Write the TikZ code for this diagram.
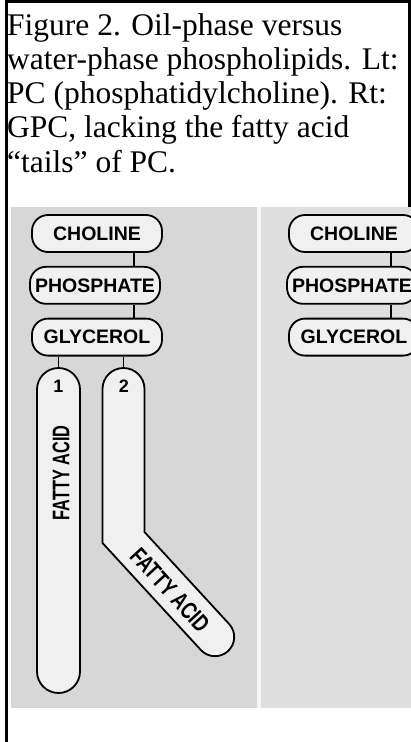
\documentclass[tikz,border=0pt]{standalone}
\usepackage{fontspec}
\setmainfont{Liberation Serif}
\setsansfont{Liberation Sans}
\usetikzlibrary{positioning}
\definecolor{panelL}{RGB}{215,215,215}
\definecolor{panelR}{RGB}{223,223,223}
\definecolor{gapstrip}{RGB}{245,245,245}
\definecolor{boxfill}{RGB}{240,240,240}
\begin{document}
\begin{tikzpicture}[x=1pt,y=1pt,line join=round,
    headbox/.style={draw,line width=1.8pt,fill=boxfill,rounded corners=16pt,minimum width=130pt,minimum height=37pt,inner sep=0pt,font=\sffamily\bfseries\fontsize{19.5}{19.5}\selectfont},
    tailbox/.style={draw,line width=1.8pt,fill=boxfill,rounded corners=21.5pt,minimum width=43pt,inner sep=0pt},
    digit/.style={font=\sffamily\bfseries\fontsize{18}{18}\selectfont,inner sep=0pt},
    fatty/.style={font=\sffamily\bfseries\fontsize{24}{24}\selectfont,inner sep=0pt},
    link/.style={line width=1.8pt},
    caption/.style={anchor=base west,inner sep=0pt,font=\fontsize{31.5}{34}\selectfont}]
    \useasboundingbox (0,0) rectangle (411,-742);
    \clip (0,0) rectangle (411,-742);
    % frame and the two panels
    \fill[white] (0,0) rectangle (411,-742);
    \fill[panelL] (11,-207) rectangle (257,-708);
    \fill[gapstrip] (257,-207) rectangle (261,-708);
    \fill[panelR] (261,-207) rectangle (411,-708);
    \fill (4.5,0) rectangle (8,-742);
    \fill (4.5,0) rectangle (411,-2.5);
    \fill (407.5,0) rectangle (411,-207);
    % caption
    \node[caption] (cap1) at (7,-35) {Figure 2. Oil-phase versus};
    \node[caption] (cap2) at (7,-69.3) {water-phase phospholipids. Lt:};
    \node[caption] (cap3) at (7,-103.6) {PC (phosphatidylcholine). Rt:};
    \node[caption] (cap4) at (7,-137.9) {GPC, lacking the fatty acid};
    \node[caption] (cap5) at (7,-172.2) {“tails” of PC.};
    % heads: PC on the left, GPC on the right
    \foreach \s/\dx in {l/0,r/257}{
        \node[headbox] (chol-\s) at (97+\dx,-233.5) {CHOLINE};
        \node[headbox,below=13pt of chol-\s,xshift=-2pt] (phos-\s) {PHOSPHATE};
        \node[headbox,below=13pt of phos-\s,xshift=2pt] (glyc-\s) {GLYCEROL};
        \draw[link] ([xshift=-29pt]chol-\s.south east) -- ([xshift=-29pt]chol-\s.south east |- phos-\s.north);
        \draw[link] ([xshift=-29pt]chol-\s.south east |- phos-\s.south) -- ([xshift=-29pt]chol-\s.south east |- glyc-\s.north);
    }
    % fatty acid tails of PC
    \node[tailbox,minimum height=325pt] (tail1) at (58.5,-530.5) {};
    \node[digit] (one) at (58.5,-386.5) {1};
    \node[fatty,rotate=90] (fa1) at (61,-473) {\scalebox{0.68}[1]{FATTY ACID}};
    \coordinate (tail2top) at (123.5,-368);
    \draw[line width=1.8pt,fill=boxfill,line join=miter] (102.5,-543) -- (102.5,-389)
        arc[start angle=180,end angle=0,radius=21pt] -- (144.5,-532) -- (229.15,-624.02)
        arc[start angle=42.5,end angle=-137.5,radius=19.2pt] -- cycle;
    \node[digit] (two) at (124,-386.5) {2};
    \node[fatty,rotate=-47.5] (fa2) at (170,-590) {\scalebox{0.75}[1]{FATTY ACID}};
    \draw[link] (tail1.north) -- (tail1.north |- glyc-l.south);
    \draw[link] (tail2top) -- (tail2top |- glyc-l.south);
\end{tikzpicture}
\end{document}
